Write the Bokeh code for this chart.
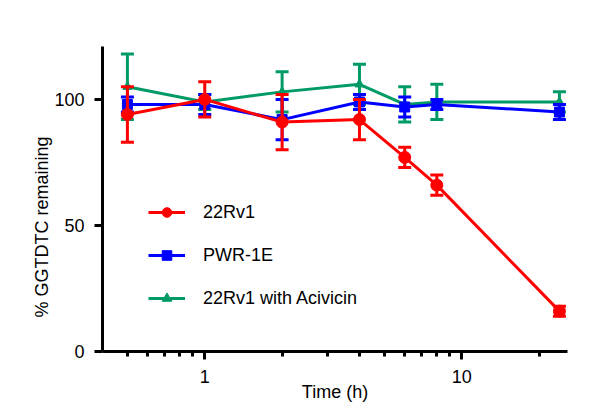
from bokeh.plotting import figure
from bokeh.models import (FixedTicker, NumeralTickFormatter, Legend, LegendItem,
                          Title, Range1d)
from bokeh.embed import file_html
from bokeh.resources import INLINE

# ---- data ----
times = [0.5, 1, 2, 4, 6, 8, 24]
rv1_mean = [94, 100, 91, 92, 77, 66, 16]
rv1_err = [11, 7, 11, 8, 4, 4, 2]
pwr_mean = [98, 98, 92, 99, 97, 98, 95]
pwr_err = [3, 4, 8, 3, 4, 2, 3]
aci_mean = [105, 99, 103, 106, 98, 99, 99]
aci_err = [13, 3, 8, 8, 7, 7, 4]

series_names = ["22Rv1", "PWR-1E", "22Rv1 with Acivicin"]
x_major_ticks = [1, 10]
x_minor_ticks = [0.5, 0.6, 0.7, 0.8, 0.9, 2, 3, 4, 5, 6, 7, 8, 9, 20]
y_ticks = [0, 50, 100]

RED = "#FF0000"
BLUE = "#0000FF"
GREEN = "#009B65"
FONT = "Liberation Sans"

p = figure(width=584, height=404, x_axis_type="log",
           x_range=Range1d(0.4, 25.8), y_range=Range1d(0, 121),
           output_backend="svg", toolbar_location=None,
           min_border_left=102, min_border_right=17,
           min_border_top=46, min_border_bottom=52)
p.outline_line_color = None
p.grid.visible = False
p.background_fill_color = "white"
p.border_fill_color = "white"

# axes
p.xaxis.ticker = FixedTicker(ticks=x_major_ticks, minor_ticks=x_minor_ticks)
p.xaxis.formatter = NumeralTickFormatter(format="0")
p.yaxis.ticker = FixedTicker(ticks=y_ticks)
for ax in (p.xaxis, p.yaxis):
    ax.axis_line_width = 3
    ax.axis_line_color = "black"
    ax.major_tick_line_width = 3
    ax.major_tick_line_color = "black"
    ax.major_tick_out = 8
    ax.major_tick_in = 0
    ax.major_label_text_font = FONT
    ax.major_label_text_font_size = "18px"
    ax.major_label_text_color = "black"
p.xaxis.minor_tick_line_width = 3
p.xaxis.minor_tick_line_color = "black"
p.xaxis.minor_tick_out = 5
p.xaxis.minor_tick_in = 0
p.xaxis.major_label_standoff = 10
p.yaxis.minor_tick_line_color = None
p.yaxis.major_label_standoff = 10

p.xaxis.axis_label = "Time (h)"
p.xaxis.axis_label_text_font = FONT
p.xaxis.axis_label_text_font_size = "18px"
p.xaxis.axis_label_text_font_style = "normal"
p.xaxis.axis_label_text_color = "black"
p.xaxis.axis_label_standoff = -4


def draw(mean, err, color, marker, msize):
    lower = [m - e for m, e in zip(mean, err)]
    upper = [m + e for m, e in zip(mean, err)]
    p.segment(x0=times, y0=lower, x1=times, y1=upper, line_color=color, line_width=3)
    p.scatter(x=times, y=upper, marker="dash", size=13, line_color=color, line_width=3)
    p.scatter(x=times, y=lower, marker="dash", size=13, line_color=color, line_width=3)
    ln = p.line(x=times, y=mean, line_color=color, line_width=3)
    mk = p.scatter(x=times, y=mean, marker=marker, size=msize,
                   fill_color=color, line_color=color)
    return ln, mk


g_ln, g_mk = draw(aci_mean, aci_err, GREEN, "triangle", 9)
b_ln, b_mk = draw(pwr_mean, pwr_err, BLUE, "square", 10)
r_ln, r_mk = draw(rv1_mean, rv1_err, RED, "circle", 12)

legend = Legend(items=[
    LegendItem(label=series_names[0], renderers=[r_ln, r_mk]),
    LegendItem(label=series_names[1], renderers=[b_ln, b_mk]),
    LegendItem(label=series_names[2], renderers=[g_ln, g_mk]),
], location=(46, 41))
legend.label_text_font = FONT
legend.label_text_font_size = "18px"
legend.label_text_color = "black"
legend.glyph_width = 37
legend.glyph_height = 24
legend.label_height = 24
legend.label_standoff = 18
legend.spacing = 19
legend.padding = 0
legend.margin = 0
legend.border_line_color = None
legend.background_fill_alpha = 0
p.add_layout(legend)

ytitle = Title(text="% GGTDTC remaining", align="left", offset=34,
               text_font=FONT, text_font_size="18px", text_font_style="normal",
               text_color="black", standoff=0)
p.add_layout(ytitle, "left")

open("out.html", "w").write(file_html(p, INLINE))
